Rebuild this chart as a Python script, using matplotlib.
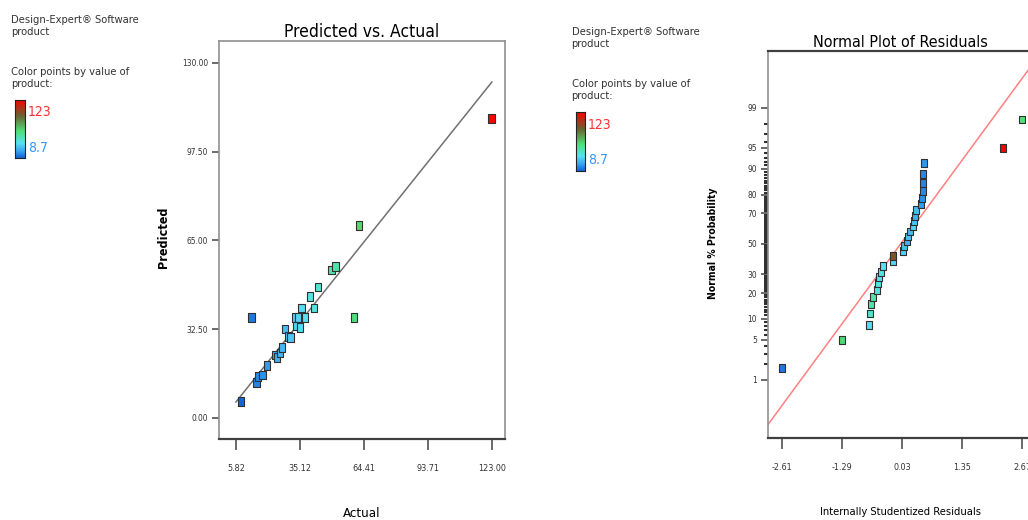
import matplotlib
matplotlib.use('Agg')
from matplotlib import pyplot as plt
from matplotlib.colors import LinearSegmentedColormap, Normalize
from statistics import NormalDist
import numpy as np

'''data'''
# Predicted vs. Actual
actual = [8.2, 13.0, 15.3, 16.0, 18.0, 19.9, 23.7, 24.7, 26.0, 27.0, 28.2, 29.8, 30.8,
          32.8, 34.3, 33.6, 35.1, 35.9, 37.4, 39.7, 41.5, 43.5, 49.6, 51.4, 59.8, 62.2, 122.8]
predicted = [6.0, 36.7, 12.9, 15.1, 15.7, 19.2, 23.1, 22.1, 23.7, 25.8, 32.6, 29.8, 29.4,
             36.7, 36.7, 33.7, 33.1, 40.2, 36.7, 44.4, 40.2, 47.9, 54.2, 55.4, 36.7, 70.4, 109.7]
left_xticks = [5.82, 35.12, 64.41, 93.71, 123.00]
left_yticks = [0.00, 32.50, 65.00, 97.50, 130.00]

# Normal plot of residuals (sorted)
residuals = [-2.61, -1.30, -0.70, -0.67, -0.66, -0.61, -0.53, -0.49, -0.48, -0.44, -0.40,
             -0.17, -0.16, 0.04, 0.07, 0.13, 0.17, 0.21, 0.26, 0.30, 0.32, 0.33, 0.45, 0.46,
             0.48, 0.49, 0.50, 0.52, 2.26, 2.67]
resid_product = [13, 62, 36, 44, 50, 52, 42, 40, 38, 40, 37, 35, 95, 33, 28, 26, 30, 27, 34,
                 30, 25, 28, 20, 18, 16, 15, 16, 19, 123, 60]
right_xticks = [-2.61, -1.29, 0.03, 1.35, 2.67]
prob_major = [1, 5, 10, 20, 30, 50, 70, 80, 90, 95, 99]
line_slope = 1.06

prod_min, prod_max = 8.7, 123

'''style'''
plt.rcParams['font.family'] = ['DejaVu Sans']
plt.rcParams['font.stretch'] = 'condensed'
cmap = LinearSegmentedColormap.from_list(
    'dx', [(0, '#1565d8'), (0.12, '#3aa8f0'), (0.25, '#58e2f2'), (0.45, '#50e078'),
           (0.72, '#6a6030'), (1, '#ff0000')])
norm = Normalize(prod_min, prod_max)

box = np.array([[-0.42, -0.55], [0.42, -0.55], [0.42, 0.55], [-0.42, 0.55], [-0.42, -0.55]])

fig = plt.figure(figsize=(10.28, 5.2), dpi=100)


def legend(x, y):
    fig.text(x, y, 'Design-Expert® Software\nproduct', fontsize=8, color='#333333',
             va='top', linespacing=1.3)
    fig.text(x, y - 0.1, 'Color points by value of\nproduct:', fontsize=8, color='#333333',
             va='top', linespacing=1.3)
    cax = fig.add_axes([x + 0.004, y - 0.276, 0.009, 0.112])
    cax.imshow(np.linspace(1, 0, 100)[:, None], cmap=cmap, aspect='auto')
    cax.set_xticks([])
    cax.set_yticks([])
    for s in cax.spines.values():
        s.set_color('#222222')
    fig.text(x + 0.016, y - 0.188, '123', fontsize=10, color='#ff3030', va='center')
    fig.text(x + 0.016, y - 0.256, '8.7', fontsize=10, color='#3399ff', va='center')


def style(ax):
    for s in ['top', 'right', 'left']:
        ax.spines[s].set_color('#909090')
        ax.spines[s].set_linewidth(1.2)
    ax.spines['bottom'].set_color('#404040')
    ax.spines['bottom'].set_linewidth(1.6)
    ax.tick_params(axis='x', direction='out', length=8, width=1.2, pad=10,
                   labelsize=6.5, color='#505050', labelcolor='#333333')
    ax.tick_params(axis='y', direction='out', length=5, width=1.2, pad=3,
                   labelsize=6, color='#505050', labelcolor='#333333')


legend(0.011, 0.972)
legend(0.556, 0.948)

'''Predicted vs. Actual'''
ax1 = fig.add_axes([0.213, 0.156, 0.278, 0.765])
ax1.plot([left_xticks[0], left_xticks[-1]], [left_xticks[0], left_xticks[-1]],
         color='#707070', lw=1.1, zorder=1)
ax1.scatter(actual, predicted, c=actual, cmap=cmap, norm=norm, marker=box, s=36,
            edgecolors='#303030', linewidths=0.8, zorder=2)
ax1.set_xlim(-1.96, 128.9)
ax1.set_ylim(-7.7, 138)
ax1.set_xticks(left_xticks)
ax1.set_xticklabels(['%.2f' % v for v in left_xticks])
ax1.set_yticks(left_yticks)
ax1.set_yticklabels(['%.2f' % v for v in left_yticks])
style(ax1)
ax1.set_title('Predicted vs. Actual', fontsize=12.5, pad=3)
fig.text(0.352, 0.013, 'Actual', fontsize=9.5, ha='center', va='center')
fig.text(0.159, 0.543, 'Predicted', fontsize=9, fontweight='bold', rotation=90,
         ha='center', va='center')

'''Normal Plot of Residuals'''
nd = NormalDist()
n = len(residuals)
zvals = [nd.inv_cdf((i + 0.5) / n) for i in range(n)]
ax2 = fig.add_axes([0.747, 0.158, 0.257, 0.744])
xl = np.array([-2.92, 2.89])
ax2.plot(xl, line_slope * xl, color='#ff8080', lw=1.1, zorder=1)
ax2.scatter(residuals, zvals, c=resid_product, cmap=cmap, norm=norm, marker=box, s=32,
            edgecolors='#303030', linewidths=0.8, zorder=2)
ax2.set_xlim(-2.92, 2.89)
ax2.set_ylim(-3.32, 3.30)
ax2.set_xticks(right_xticks)
ax2.set_xticklabels(['%.2f' % v for v in right_xticks])
ax2.set_yticks([nd.inv_cdf(p / 100) for p in prob_major])
ax2.set_yticklabels([str(p) for p in prob_major])
minor = [p for p in range(1, 100) if p not in prob_major]
ax2.set_yticks([nd.inv_cdf(p / 100) for p in minor], minor=True)
ax2.tick_params(axis='y', which='minor', length=3, width=1.5, color='#303030')
style(ax2)
ax2.spines['top'].set_color('#404040')
ax2.spines['top'].set_linewidth(1.6)
ax2.set_title('Normal Plot of Residuals', fontsize=11.5, pad=3)
fig.text(0.876, 0.015, 'Internally Studentized Residuals', fontsize=8, ha='center', va='center')
fig.text(0.694, 0.532, 'Normal % Probability', fontsize=7.5, fontweight='bold', rotation=90,
         ha='center', va='center')

plt.savefig('out.png', dpi=100)
